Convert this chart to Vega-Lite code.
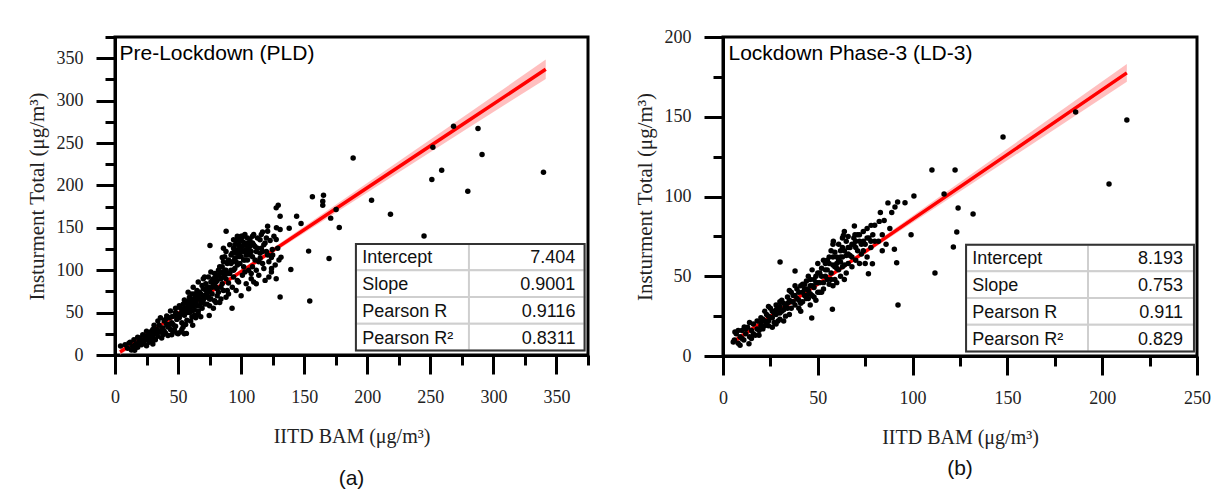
{
  "$schema": "https://vega.github.io/schema/vega-lite/v6.json",
  "background": "white",
  "padding": {"left": 24, "top": 26, "right": 0, "bottom": 0},
  "spacing": 135,
  "bounds": "flush",
  "config": {
    "view": {"stroke": "#000", "strokeWidth": 3},
    "axis": {"grid": false},
    "font": "Liberation Sans"
  },
  "datasets": {
    "pld_points": [
      {"x":8,"y":12},{"x":10,"y":8},{"x":12,"y":15},{"x":14,"y":10},{"x":15,"y":18},{"x":17,"y":13},{"x":18,"y":9},{"x":19,"y":16},{"x":20,"y":20},{"x":21,"y":12},{"x":22,"y":17},{"x":23,"y":14},{"x":24,"y":22},{"x":25,"y":11},{"x":26,"y":19},{"x":27,"y":15},{"x":28,"y":24},{"x":29,"y":17},{"x":30,"y":13},{"x":30,"y":21},{"x":11,"y":14},{"x":13,"y":6},{"x":16,"y":12},{"x":20,"y":15},{"x":24,"y":18},{"x":27,"y":20},{"x":29,"y":28},{"x":31,"y":25},{"x":18,"y":21},{"x":22,"y":24},
      {"x":32,"y":18},{"x":33,"y":30},{"x":34,"y":22},{"x":35,"y":35},{"x":36,"y":27},{"x":37,"y":20},{"x":38,"y":32},{"x":39,"y":40},{"x":40,"y":26},{"x":41,"y":36},{"x":42,"y":23},{"x":43,"y":44},{"x":44,"y":30},{"x":45,"y":38},{"x":46,"y":28},{"x":47,"y":46},{"x":48,"y":34},{"x":49,"y":42},{"x":50,"y":25},{"x":50,"y":48},{"x":31,"y":35},{"x":34,"y":40},{"x":36,"y":44},{"x":39,"y":28},{"x":41,"y":46},{"x":44,"y":52},{"x":46,"y":36},{"x":48,"y":55},{"x":42,"y":33},{"x":38,"y":24},{"x":45,"y":24},{"x":47,"y":30},{"x":49,"y":26},{"x":52,"y":27},{"x":53,"y":30},{"x":55,"y":25},{"x":54,"y":33},
      {"x":51,"y":44},{"x":52,"y":55},{"x":53,"y":38},{"x":54,"y":60},{"x":55,"y":47},{"x":56,"y":52},{"x":57,"y":41},{"x":58,"y":63},{"x":59,"y":50},{"x":60,"y":57},{"x":61,"y":45},{"x":62,"y":66},{"x":63,"y":53},{"x":64,"y":70},{"x":65,"y":58},{"x":66,"y":48},{"x":67,"y":74},{"x":68,"y":62},{"x":69,"y":55},{"x":70,"y":78},{"x":51,"y":58},{"x":53,"y":50},{"x":55,"y":65},{"x":57,"y":56},{"x":59,"y":68},{"x":61,"y":72},{"x":63,"y":60},{"x":65,"y":76},{"x":67,"y":66},{"x":69,"y":82},{"x":56,"y":36},{"x":60,"y":40},{"x":64,"y":44},{"x":66,"y":52},{"x":68,"y":45},{"x":58,"y":74},{"x":62,"y":80},{"x":66,"y":86},{"x":70,"y":65},{"x":70,"y":90},{"x":61,"y":62},{"x":63,"y":47},{"x":57,"y":61},
      {"x":71,"y":70},{"x":72,"y":84},{"x":73,"y":60},{"x":74,"y":92},{"x":75,"y":75},{"x":76,"y":66},{"x":77,"y":88},{"x":78,"y":55},{"x":79,"y":96},{"x":80,"y":80},{"x":81,"y":70},{"x":82,"y":100},{"x":83,"y":62},{"x":84,"y":90},{"x":85,"y":104},{"x":86,"y":76},{"x":87,"y":95},{"x":88,"y":68},{"x":89,"y":108},{"x":90,"y":85},{"x":72,"y":76},{"x":74,"y":68},{"x":76,"y":98},{"x":78,"y":82},{"x":80,"y":92},{"x":82,"y":74},{"x":84,"y":98},{"x":86,"y":110},{"x":88,"y":90},{"x":90,"y":72},{"x":71,"y":92},{"x":73,"y":80},{"x":75,"y":58},{"x":77,"y":72},{"x":79,"y":64},{"x":81,"y":88},{"x":83,"y":104},{"x":85,"y":84},{"x":87,"y":100},{"x":89,"y":76},{"x":80,"y":62},{"x":84,"y":66},{"x":90,"y":112},{"x":88,"y":122},{"x":86,"y":126},{"x":87,"y":116},
      {"x":91,"y":96},{"x":92,"y":118},{"x":93,"y":80},{"x":94,"y":126},{"x":95,"y":102},{"x":96,"y":135},{"x":97,"y":88},{"x":98,"y":130},{"x":99,"y":108},{"x":100,"y":140},{"x":101,"y":94},{"x":102,"y":122},{"x":103,"y":132},{"x":104,"y":84},{"x":105,"y":138},{"x":106,"y":100},{"x":107,"y":128},{"x":108,"y":90},{"x":109,"y":116},{"x":110,"y":142},{"x":91,"y":130},{"x":93,"y":110},{"x":95,"y":124},{"x":97,"y":140},{"x":99,"y":120},{"x":101,"y":134},{"x":103,"y":112},{"x":105,"y":125},{"x":107,"y":136},{"x":109,"y":104},{"x":92,"y":100},{"x":94,"y":92},{"x":96,"y":76},{"x":98,"y":86},{"x":100,"y":70},{"x":102,"y":104},{"x":104,"y":118},{"x":106,"y":78},{"x":108,"y":96},{"x":110,"y":86},{"x":95,"y":114},{"x":99,"y":126},{"x":102,"y":140},{"x":104,"y":130},{"x":100,"y":116},{"x":97,"y":106},{"x":103,"y":98},{"x":105,"y":112},{"x":101,"y":128},{"x":98,"y":138},{"x":96,"y":120},{"x":94,"y":136},
      {"x":111,"y":128},{"x":112,"y":100},{"x":113,"y":138},{"x":114,"y":94},{"x":115,"y":120},{"x":116,"y":142},{"x":117,"y":108},{"x":118,"y":130},{"x":119,"y":88},{"x":120,"y":122},{"x":121,"y":146},{"x":122,"y":110},{"x":123,"y":135},{"x":124,"y":98},{"x":125,"y":118},{"x":126,"y":140},{"x":127,"y":106},{"x":128,"y":150},{"x":129,"y":126},{"x":130,"y":112},{"x":112,"y":84},{"x":114,"y":110},{"x":116,"y":126},{"x":118,"y":102},{"x":120,"y":138},{"x":122,"y":92},{"x":124,"y":115},{"x":112,"y":122},{"x":115,"y":136},{"x":117,"y":145},{"x":109,"y":132},{"x":111,"y":112},
      {"x":45,"y":45},{"x":48,"y":50},{"x":52,"y":48},{"x":55,"y":55},{"x":58,"y":52},{"x":60,"y":64},{"x":62,"y":58},{"x":64,"y":62},{"x":66,"y":70},{"x":68,"y":72},{"x":70,"y":70},{"x":72,"y":68},{"x":74,"y":80},{"x":76,"y":86},{"x":78,"y":90},{"x":80,"y":86},{"x":82,"y":94},{"x":84,"y":80},{"x":86,"y":92},{"x":88,"y":100},{"x":90,"y":96},{"x":92,"y":108},{"x":94,"y":100},{"x":96,"y":110},{"x":98,"y":116},{"x":100,"y":124},{"x":102,"y":112},{"x":104,"y":124},{"x":106,"y":132},{"x":108,"y":122},{"x":110,"y":130},{"x":93,"y":120},{"x":95,"y":130},{"x":97,"y":124},{"x":99,"y":134},{"x":101,"y":140},{"x":103,"y":142},{"x":105,"y":120},{"x":107,"y":118},{"x":109,"y":140},{"x":113,"y":126},{"x":115,"y":114},{"x":117,"y":122},{"x":119,"y":132},{"x":121,"y":118},{"x":85,"y":115},{"x":83,"y":96},{"x":81,"y":78},{"x":79,"y":84},{"x":77,"y":80},{"x":75,"y":66},{"x":73,"y":72},{"x":71,"y":60},{"x":69,"y":64},{"x":67,"y":58},{"x":65,"y":66},{"x":63,"y":72},{"x":61,"y":52},{"x":59,"y":58},{"x":57,"y":50},{"x":43,"y":36},{"x":40,"y":42},{"x":37,"y":30},{"x":35,"y":28},{"x":33,"y":26},{"x":30,"y":30},{"x":27,"y":25},{"x":25,"y":28},
      {"x":188.8,"y":232.4},{"x":268.4,"y":269.7},{"x":287.8,"y":267},{"x":291,"y":236.4},{"x":252,"y":245},{"x":259,"y":217.9},{"x":251.2,"y":207},{"x":279.7,"y":193},{"x":339.7,"y":215.5},{"x":203.4,"y":182.6},{"x":218.4,"y":166},{"x":245,"y":140.2},{"x":156.5,"y":186.5},{"x":165.3,"y":188.5},{"x":164.7,"y":181.4},{"x":164.7,"y":176.7},{"x":175.3,"y":171.6},{"x":171,"y":161.4},{"x":177.8,"y":150.4},{"x":169.7,"y":113.9},{"x":153.5,"y":122.5},{"x":154.4,"y":63.6},{"x":144,"y":163.7},{"x":147.5,"y":155.1},{"x":139.4,"y":100.9},{"x":138.1,"y":149.6},{"x":130.9,"y":68.3},{"x":127.8,"y":89.9},{"x":131.6,"y":115.4},{"x":124.1,"y":102.1},{"x":129.4,"y":176.7},{"x":130.9,"y":163.7},{"x":130.9,"y":148},{"x":127.8,"y":136.3},{"x":124.7,"y":124.5},{"x":121,"y":151.9},{"x":127.8,"y":173.5},{"x":75.3,"y":129.2},{"x":88.1,"y":146},{"x":92.8,"y":55},{"x":74.7,"y":46.7},{"x":61.6,"y":35},{"x":56.6,"y":25.5},{"x":15.6,"y":5.5},{"x":4.4,"y":10.6}
    ],
    "pld_fit": [
      {"x":4,"fit":3.5,"lo":0,"hi":7},{"x":40,"fit":39.1,"lo":36.8,"hi":41.4},{"x":70,"fit":68.7,"lo":66.7,"hi":70.7},{"x":120,"fit":118.1,"lo":115.3,"hi":120.9},{"x":200,"fit":197.2,"lo":191.7,"hi":202.7},{"x":280,"fit":276.2,"lo":267.7,"hi":284.7},{"x":341.5,"fit":337,"lo":325.5,"hi":348.5}
    ],
    "pld_table": [
      {"stat":"Intercept","value":"7.404","top":131,"bottom":99.8},
      {"stat":"Slope","value":"0.9001","top":99.8,"bottom":68.3},
      {"stat":"Pearson R","value":"0.9116","top":68.3,"bottom":36.9},
      {"stat":"Pearson R²","value":"0.8311","top":36.9,"bottom":5.3}
    ],
    "ld3_points": [
      {"x":6,"y":10},{"x":7,"y":14},{"x":8,"y":8},{"x":9,"y":12},{"x":10,"y":16},{"x":11,"y":10},{"x":12,"y":14},{"x":13,"y":18},{"x":14,"y":12},{"x":15,"y":16},{"x":16,"y":20},{"x":17,"y":13},{"x":18,"y":22},{"x":19,"y":16},{"x":20,"y":19},{"x":8,"y":16},{"x":10,"y":11},{"x":12,"y":17},{"x":14,"y":21},{"x":16,"y":14},{"x":18,"y":17},{"x":20,"y":24},{"x":15,"y":11},{"x":19,"y":13},
      {"x":21,"y":17},{"x":22,"y":22},{"x":23,"y":26},{"x":24,"y":19},{"x":25,"y":24},{"x":26,"y":28},{"x":27,"y":21},{"x":28,"y":26},{"x":29,"y":30},{"x":30,"y":23},{"x":31,"y":28},{"x":32,"y":33},{"x":33,"y":25},{"x":34,"y":30},{"x":35,"y":35},{"x":22,"y":28},{"x":24,"y":25},{"x":26,"y":18},{"x":28,"y":32},{"x":30,"y":27},{"x":32,"y":22},{"x":34,"y":37},{"x":21,"y":23},{"x":23,"y":20},{"x":25,"y":30},{"x":27,"y":27},{"x":29,"y":22},{"x":31,"y":35},{"x":33,"y":31},{"x":35,"y":26},{"x":28,"y":20},{"x":30,"y":34},{"x":24,"y":31},
      {"x":36,"y":30},{"x":37,"y":38},{"x":38,"y":32},{"x":39,"y":42},{"x":40,"y":35},{"x":41,"y":28},{"x":42,"y":40},{"x":43,"y":45},{"x":44,"y":36},{"x":45,"y":41},{"x":46,"y":48},{"x":47,"y":38},{"x":48,"y":43},{"x":49,"y":50},{"x":50,"y":40},{"x":36,"y":40},{"x":38,"y":44},{"x":40,"y":30},{"x":42,"y":34},{"x":44,"y":47},{"x":46,"y":32},{"x":48,"y":37},{"x":50,"y":52},{"x":37,"y":34},{"x":39,"y":36},{"x":41,"y":44},{"x":43,"y":38},{"x":45,"y":50},{"x":47,"y":44},{"x":49,"y":35},{"x":41,"y":33},{"x":44,"y":42},{"x":47,"y":54},{"x":35,"y":41},{"x":46,"y":39},
      {"x":51,"y":46},{"x":52,"y":55},{"x":53,"y":42},{"x":54,"y":58},{"x":55,"y":48},{"x":56,"y":62},{"x":57,"y":52},{"x":58,"y":44},{"x":59,"y":65},{"x":60,"y":55},{"x":61,"y":60},{"x":62,"y":50},{"x":63,"y":68},{"x":64,"y":57},{"x":65,"y":63},{"x":51,"y":52},{"x":53,"y":60},{"x":55,"y":54},{"x":57,"y":66},{"x":59,"y":48},{"x":61,"y":70},{"x":63,"y":56},{"x":65,"y":72},{"x":52,"y":40},{"x":54,"y":50},{"x":56,"y":45},{"x":58,"y":57},{"x":60,"y":62},{"x":62,"y":66},{"x":64,"y":48},{"x":50,"y":58},{"x":60,"y":46},{"x":58,"y":70},{"x":62,"y":59},
      {"x":66,"y":58},{"x":67,"y":68},{"x":68,"y":62},{"x":69,"y":74},{"x":70,"y":60},{"x":71,"y":66},{"x":72,"y":72},{"x":73,"y":64},{"x":74,"y":78},{"x":75,"y":70},{"x":76,"y":62},{"x":77,"y":74},{"x":78,"y":68},{"x":79,"y":76},{"x":80,"y":72},{"x":66,"y":75},{"x":68,"y":56},{"x":70,"y":68},{"x":72,"y":58},{"x":74,"y":66},{"x":76,"y":80},{"x":67,"y":63},{"x":69,"y":70},{"x":71,"y":76},{"x":73,"y":70},{"x":75,"y":58},{"x":65,"y":52},{"x":64,"y":78},{"x":63,"y":74},{"x":66,"y":68},
      {"x":82,"y":72},{"x":84,"y":76},{"x":86,"y":70},{"x":88,"y":80},{"x":85,"y":85},{"x":80,"y":82},{"x":83,"y":90},{"x":87,"y":96},{"x":89,"y":90},{"x":84,"y":66},
      {"x":40,"y":40},{"x":42,"y":45},{"x":44,"y":38},{"x":46,"y":44},{"x":48,"y":48},{"x":50,"y":46},{"x":52,"y":50},{"x":54,"y":54},{"x":56,"y":58},{"x":58,"y":62},{"x":60,"y":58},{"x":62,"y":62},{"x":64,"y":66},{"x":66,"y":64},{"x":68,"y":70},{"x":70,"y":72},{"x":72,"y":76},{"x":74,"y":72},{"x":76,"y":74},{"x":78,"y":72},{"x":55,"y":60},{"x":57,"y":48},{"x":59,"y":56},{"x":61,"y":54},{"x":63,"y":62},{"x":53,"y":46},{"x":51,"y":40},{"x":49,"y":46},{"x":45,"y":36},{"x":43,"y":42},{"x":38,"y":38},{"x":36,"y":34},{"x":34,"y":33},{"x":32,"y":29},{"x":30,"y":31},{"x":28,"y":29},{"x":26,"y":24},{"x":24,"y":22},{"x":22,"y":19},{"x":20,"y":21},
      {"x":213,"y":148},{"x":203.6,"y":107.8},{"x":186,"y":153},{"x":147.7,"y":137.3},{"x":122.4,"y":116.6},{"x":110.2,"y":116.6},{"x":116.6,"y":101.6},{"x":124,"y":92.8},{"x":123.3,"y":77.7},{"x":121.5,"y":68.3},{"x":111.8,"y":52},{"x":131.9,"y":89},{"x":92.3,"y":32},{"x":100.7,"y":100.3},{"x":96,"y":96.1},{"x":92.1,"y":96.6},{"x":90.7,"y":93.4},{"x":99.2,"y":76},{"x":90.4,"y":66.9},{"x":91.6,"y":58.5},{"x":82.4,"y":84.4},{"x":78.1,"y":81.9},{"x":69.3,"y":81.5},{"x":58.2,"y":71.9},{"x":30.1,"y":58.9},{"x":38,"y":53.3},{"x":46.8,"y":23.8},{"x":57.7,"y":29.3},{"x":76.7,"y":51.6},{"x":78.8,"y":57.9},{"x":13.7,"y":7.7},{"x":5.4,"y":8.8},{"x":9,"y":6.7},{"x":6.3,"y":15},{"x":11.2,"y":18.2},{"x":69.6,"y":76},{"x":63.5,"y":75.6}
    ],
    "ld3_fit": [
      {"x":5.3,"fit":8.8,"lo":6.8,"hi":10.8},{"x":30,"fit":28.9,"lo":27.6,"hi":30.2},{"x":45,"fit":41.0,"lo":39.9,"hi":42.1},{"x":80,"fit":69.5,"lo":68,"hi":71},{"x":130,"fit":110.1,"lo":107.1,"hi":113.1},{"x":180,"fit":150.7,"lo":146.1,"hi":155.3},{"x":213,"fit":177.5,"lo":171.9,"hi":183.1}
    ],
    "ld3_table": [
      {"stat":"Intercept","value":"8.193","top":69.8,"bottom":53.1},
      {"stat":"Slope","value":"0.753","top":53.1,"bottom":36.4},
      {"stat":"Pearson R","value":"0.911","top":36.4,"bottom":19.6},
      {"stat":"Pearson R²","value":"0.829","top":19.6,"bottom":2.8}
    ]
  },
  "hconcat": [
    {
      "width": 473,
      "height": 318,
      "title": {"text": "(a)", "orient": "bottom", "anchor": "middle", "font": "Liberation Sans", "fontSize": 21, "fontWeight": "normal", "color": "#111", "offset": 22},
      "resolve": {"axis": {"x": "independent", "y": "independent"}},
      "layer": [
        {
          "data": {"name": "pld_fit"},
          "mark": {"type": "area", "color": "#ff8a8a", "opacity": 0.55},
          "encoding": {
            "x": {"field": "x", "type": "quantitative", "scale": {"domain": [0, 375], "nice": false, "zero": false},
              "axis": {"orient": "bottom", "values": [0,25,50,75,100,125,150,175,200,225,250,275,300,325,350,375],
                "labelExpr": "datum.value % 50 === 0 ? datum.label : ''",
                "tickSize": {"condition": {"test": "datum.value % 50 === 0", "value": 19}, "value": 10},
                "tickWidth": 3, "tickColor": "#000", "domainWidth": 3, "domainColor": "#000",
                "labelFont": "Liberation Serif", "labelFontSize": 18, "labelColor": "#222", "labelPadding": 14, "labelFlush": false, "labelOverlap": false,
                "title": "IITD BAM (μg/m³)", "titleFont": "Liberation Serif", "titleFontSize": 20, "titleFontWeight": "normal", "titleColor": "#222", "titlePadding": 20}},
            "y": {"field": "lo", "type": "quantitative", "scale": {"domain": [0, 375], "nice": false, "zero": false},
              "axis": {"orient": "left", "values": [0,25,50,75,100,125,150,175,200,225,250,275,300,325,350,375],
                "labelExpr": "datum.value % 50 === 0 ? datum.label : ''",
                "tickSize": {"condition": {"test": "datum.value % 50 === 0", "value": 19}, "value": 10},
                "tickWidth": 3, "tickColor": "#000", "domainWidth": 3, "domainColor": "#000",
                "labelFont": "Liberation Serif", "labelFontSize": 18, "labelColor": "#222", "labelPadding": 13, "labelFlush": false, "labelOverlap": false,
                "title": "Insturment Total (μg/m³)", "titleFont": "Liberation Serif", "titleFontSize": 21, "titleFontWeight": "normal", "titleColor": "#222", "titlePadding": 9}},
            "y2": {"field": "hi"}
          }
        },
        {
          "data": {"name": "pld_fit"},
          "mark": {"type": "line", "color": "#ff0000", "strokeWidth": 3.5},
          "encoding": {
            "x": {"field": "x", "type": "quantitative", "axis": null},
            "y": {"field": "fit", "type": "quantitative", "axis": null}
          }
        },
        {
          "data": {"name": "pld_points"},
          "mark": {"type": "circle", "color": "#000", "size": 30, "opacity": 1},
          "encoding": {
            "x": {"field": "x", "type": "quantitative",
              "axis": {"orient": "top", "title": "Pre-Lockdown (PLD)", "labels": false, "ticks": false, "domain": false, "grid": false,
                "titleAnchor": "start", "titleAlign": "left", "titleBaseline": "alphabetic", "titleX": 4, "titleY": 22,
                "titleFont": "Liberation Sans", "titleFontSize": 21, "titleFontWeight": "normal", "titleColor": "#000"}},
            "y": {"field": "y", "type": "quantitative", "axis": null}
          }
        },
        {
          "data": {"name": "pld_table"},
          "mark": {"type": "rect", "fill": "#fff", "stroke": "#cfcfcf", "strokeWidth": 2},
          "encoding": {
            "x": {"datum": 191, "type": "quantitative", "axis": null},
            "x2": {"datum": 372.3},
            "y": {"field": "top", "type": "quantitative", "axis": null},
            "y2": {"field": "bottom"}
          }
        },
        {
          "data": {"name": "pld_table"},
          "mark": {"type": "rule", "color": "#cfcfcf", "strokeWidth": 2},
          "encoding": {
            "x": {"datum": 280.6, "type": "quantitative", "axis": null},
            "y": {"field": "top", "type": "quantitative", "axis": null},
            "y2": {"field": "bottom"}
          }
        },
        {
          "data": {"name": "pld_table"},
          "mark": {"type": "rect", "fill": null, "fillOpacity": 0, "stroke": "#333", "strokeWidth": 2},
          "encoding": {
            "x": {"datum": 191, "type": "quantitative", "axis": null},
            "x2": {"datum": 372.3},
            "y": {"aggregate": "max", "field": "top", "type": "quantitative", "axis": null},
            "y2": {"aggregate": "min", "field": "bottom"}
          }
        },
        {
          "data": {"name": "pld_table"},
          "mark": {"type": "text", "align": "left", "baseline": "alphabetic", "dy": -7, "font": "Liberation Sans", "fontSize": 18, "color": "#111"},
          "encoding": {
            "x": {"datum": 196, "type": "quantitative", "axis": null},
            "y": {"field": "bottom", "type": "quantitative", "axis": null},
            "text": {"field": "stat"}
          }
        },
        {
          "data": {"name": "pld_table"},
          "mark": {"type": "text", "align": "right", "baseline": "alphabetic", "dy": -7, "font": "Liberation Sans", "fontSize": 18, "color": "#111"},
          "encoding": {
            "x": {"datum": 365, "type": "quantitative", "axis": null},
            "y": {"field": "bottom", "type": "quantitative", "axis": null},
            "text": {"field": "value"}
          }
        }
      ]
    },
    {
      "width": 474,
      "height": 319,
      "title": {"text": "(b)", "orient": "bottom", "anchor": "middle", "font": "Liberation Sans", "fontSize": 21, "fontWeight": "normal", "color": "#111", "offset": 11},
      "resolve": {"axis": {"x": "independent", "y": "independent"}},
      "layer": [
        {
          "data": {"name": "ld3_fit"},
          "mark": {"type": "area", "color": "#ff8a8a", "opacity": 0.55},
          "encoding": {
            "x": {"field": "x", "type": "quantitative", "scale": {"domain": [0, 250], "nice": false, "zero": false},
              "axis": {"orient": "bottom", "values": [0,25,50,75,100,125,150,175,200,225,250],
                "labelExpr": "datum.value % 50 === 0 ? datum.label : ''",
                "tickSize": {"condition": {"test": "datum.value % 50 === 0", "value": 19}, "value": 10},
                "tickWidth": 3, "tickColor": "#000", "domainWidth": 3, "domainColor": "#000",
                "labelFont": "Liberation Serif", "labelFontSize": 18, "labelColor": "#222", "labelPadding": 14, "labelFlush": false, "labelOverlap": false,
                "title": "IITD BAM (μg/m³)", "titleFont": "Liberation Serif", "titleFontSize": 20, "titleFontWeight": "normal", "titleColor": "#222", "titlePadding": 20}},
            "y": {"field": "lo", "type": "quantitative", "scale": {"domain": [0, 200], "nice": false, "zero": false},
              "axis": {"orient": "left", "values": [0,25,50,75,100,125,150,175,200],
                "labelExpr": "datum.value % 50 === 0 ? datum.label : ''",
                "tickSize": {"condition": {"test": "datum.value % 50 === 0", "value": 19}, "value": 10},
                "tickWidth": 3, "tickColor": "#000", "domainWidth": 3, "domainColor": "#000",
                "labelFont": "Liberation Serif", "labelFontSize": 18, "labelColor": "#222", "labelPadding": 13, "labelFlush": false, "labelOverlap": false,
                "title": "Insturment Total (μg/m³)", "titleFont": "Liberation Serif", "titleFontSize": 21, "titleFontWeight": "normal", "titleColor": "#222", "titlePadding": 9}},
            "y2": {"field": "hi"}
          }
        },
        {
          "data": {"name": "ld3_fit"},
          "mark": {"type": "line", "color": "#ff0000", "strokeWidth": 3.5},
          "encoding": {
            "x": {"field": "x", "type": "quantitative", "axis": null},
            "y": {"field": "fit", "type": "quantitative", "axis": null}
          }
        },
        {
          "data": {"name": "ld3_points"},
          "mark": {"type": "circle", "color": "#000", "size": 30, "opacity": 1},
          "encoding": {
            "x": {"field": "x", "type": "quantitative",
              "axis": {"orient": "top", "title": "Lockdown Phase-3 (LD-3)", "labels": false, "ticks": false, "domain": false, "grid": false,
                "titleAnchor": "start", "titleAlign": "left", "titleBaseline": "alphabetic", "titleX": 5, "titleY": 22,
                "titleFont": "Liberation Sans", "titleFontSize": 21, "titleFontWeight": "normal", "titleColor": "#000"}},
            "y": {"field": "y", "type": "quantitative", "axis": null}
          }
        },
        {
          "data": {"name": "ld3_table"},
          "mark": {"type": "rect", "fill": "#fff", "stroke": "#cfcfcf", "strokeWidth": 2},
          "encoding": {
            "x": {"datum": 128.2, "type": "quantitative", "axis": null},
            "x2": {"datum": 248.4},
            "y": {"field": "top", "type": "quantitative", "axis": null},
            "y2": {"field": "bottom"}
          }
        },
        {
          "data": {"name": "ld3_table"},
          "mark": {"type": "rule", "color": "#cfcfcf", "strokeWidth": 2},
          "encoding": {
            "x": {"datum": 192.5, "type": "quantitative", "axis": null},
            "y": {"field": "top", "type": "quantitative", "axis": null},
            "y2": {"field": "bottom"}
          }
        },
        {
          "data": {"name": "ld3_table"},
          "mark": {"type": "rect", "fill": null, "fillOpacity": 0, "stroke": "#333", "strokeWidth": 2},
          "encoding": {
            "x": {"datum": 128.2, "type": "quantitative", "axis": null},
            "x2": {"datum": 248.4},
            "y": {"aggregate": "max", "field": "top", "type": "quantitative", "axis": null},
            "y2": {"aggregate": "min", "field": "bottom"}
          }
        },
        {
          "data": {"name": "ld3_table"},
          "mark": {"type": "text", "align": "left", "baseline": "alphabetic", "dy": -7, "font": "Liberation Sans", "fontSize": 18, "color": "#111"},
          "encoding": {
            "x": {"datum": 131.4, "type": "quantitative", "axis": null},
            "y": {"field": "bottom", "type": "quantitative", "axis": null},
            "text": {"field": "stat"}
          }
        },
        {
          "data": {"name": "ld3_table"},
          "mark": {"type": "text", "align": "right", "baseline": "alphabetic", "dy": -7, "font": "Liberation Sans", "fontSize": 18, "color": "#111"},
          "encoding": {
            "x": {"datum": 242.6, "type": "quantitative", "axis": null},
            "y": {"field": "bottom", "type": "quantitative", "axis": null},
            "text": {"field": "value"}
          }
        }
      ]
    }
  ]
}
